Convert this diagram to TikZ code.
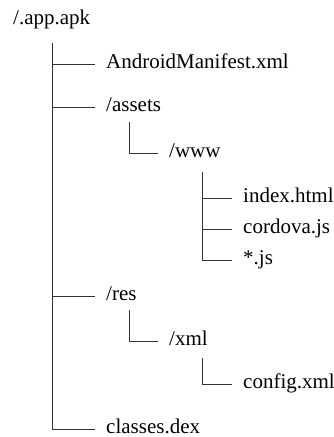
\documentclass[tikz,border=0pt]{standalone}
\usepackage{fontspec}
\setmainfont{Liberation Serif}
\begin{document}
\begin{tikzpicture}[x=1pt,y=-1pt,
  entry/.style={anchor=west, inner xsep=0pt, inner ysep=0pt,
    text height=14pt, text depth=4.5pt, font=\fontsize{21}{25}\selectfont},
  branch/.style={draw=black!80, line width=0.8pt, shorten >=11pt}]
\useasboundingbox (0,0) rectangle (334,437);

% top level
\node[entry] (root) at (13,20) {/.app.apk};
\coordinate (rootstem) at (52,43);
\node[entry] (manifest) at (106,64) {AndroidManifest.xml};
\node[entry] (assets) at (106,107) {/assets};
\node[entry] (res) at (106,296) {/res};
\node[entry] (classes) at (106,429) {classes.dex};

% assets subtree
\coordinate (assetsstem) at (129,122);
\node[entry] (www) at (169,153) {/www};
\coordinate (wwwstem) at (202,172);
\node[entry] (index) at (243,198) {index.html};
\node[entry] (cordova) at (243,229) {cordova.js};
\node[entry] (alljs) at (243,260) {*.js};

% res subtree
\coordinate (resstem) at (129,310);
\node[entry] (xml) at (169,341) {/xml};
\coordinate (xmlstem) at (202,358);
\node[entry] (config) at (243,384) {config.xml};

% connectors
\foreach \child in {manifest,assets,res,classes}
  \draw[branch] (rootstem) |- (\child.west);
\draw[branch] (assetsstem) |- (www.west);
\foreach \child in {index,cordova,alljs}
  \draw[branch] (wwwstem) |- (\child.west);
\draw[branch] (resstem) |- (xml.west);
\draw[branch] (xmlstem) |- (config.west);
\end{tikzpicture}
\end{document}
